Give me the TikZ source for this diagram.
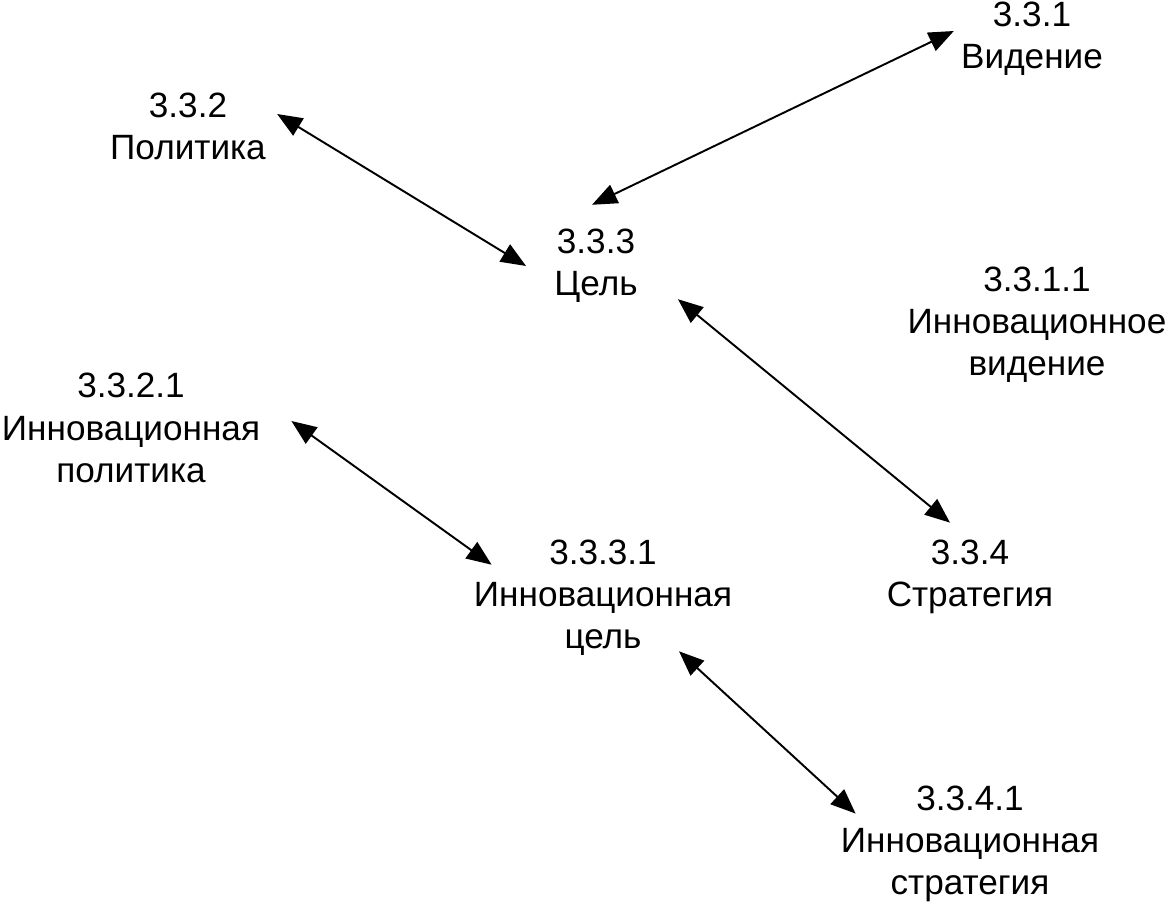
\documentclass[tikz,border=0pt]{standalone}
\usepackage{fontspec}
\setmainfont{Liberation Sans}
\usetikzlibrary{arrows.meta}

\begin{document}
\begin{tikzpicture}[
    x=0.02cm, y=-0.02cm,
    term/.style={align=center, inner sep=0pt, font=\fontsize{20}{24}\selectfont},
    link/.style={{Triangle[length=0.5cm, width=0.4cm]}-{Triangle[length=0.5cm, width=0.4cm]}, line width=1.1pt}
]
    \useasboundingbox (0,0) rectangle (1168,905);

    \node[term] (vid) at (1032,39) {3.3.1\\Видение};
    \node[term] (pol) at (188,126) {3.3.2\\Политика};
    \node[term] (cel) at (596,266) {3.3.3\\Цель};
    \node[term] (ivid) at (1037,325) {3.3.1.1\\Инновационное\\видение};
    \node[term] (ipol) at (131,428) {3.3.2.1\\Инновационная\\политика};
    \node[term] (icel) at (603,598) {3.3.3.1\\Инновационная\\цель};
    \node[term] (str) at (970,577) {3.3.4\\Стратегия};
    \node[term] (istr) at (970,844) {3.3.4.1\\Инновационная\\стратегия};

    \draw[link] ([shift={(-7,-8)}]vid.west) -- ([shift={(-4,-24)}]cel.north);
    \draw[link] ([shift={(11,-12)}]pol.east) -- ([shift={(-28,0)}]cel.west);
    \draw[link] ([shift={(40,-4)}]cel.south east) -- ([shift={(-20,-17)}]str.north);
    \draw[link] ([shift={(31,-7)}]ipol.east) -- ([shift={(18,25)}]icel.north west);
    \draw[link] ([shift={(76,-5)}]icel.south) -- ([shift={(15,28)}]istr.north west);
\end{tikzpicture}
\end{document}
